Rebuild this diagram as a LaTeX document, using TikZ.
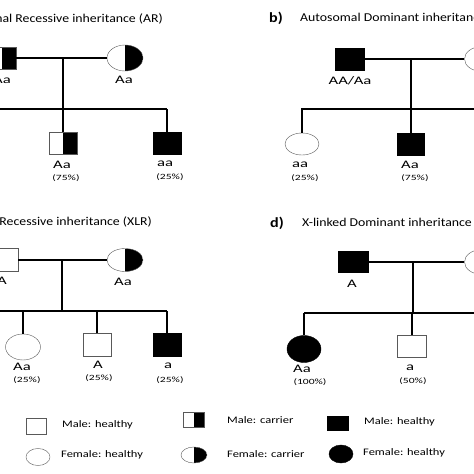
\documentclass[tikz,border=0pt]{standalone}
\usepackage{fontspec}
\setmainfont{Carlito}
\newfontfamily\gtfont[FakeStretch=1.45]{Carlito}
\newfontfamily\keyfont[FakeStretch=1.25]{Carlito}
\newfontfamily\titfont[FakeStretch=1.15]{Carlito}
\usetikzlibrary{shapes.geometric}
\usetikzlibrary{positioning}
\tikzset{
  male/.style={
    rectangle,
    draw=black!65, thin, fill=white,
    minimum width=28pt, minimum height=22pt,
    inner sep=0pt,
  },
  female/.style={
    ellipse,
    draw=black!65, thin, fill=white,
    minimum width=35pt, minimum height=25pt,
    inner sep=0pt,
  },
  affected/.style={fill=black, draw=black},
  carrier/.style={
    path picture={\fill[black] (path picture bounding box.north) rectangle (path picture bounding box.south east);}
  },
  pedline/.style={draw=black, line width=1.6pt},
  gtype/.style={font=\gtfont\fontsize{11.5}{13}\selectfont, inner sep=0pt},
  pct/.style={font=\gtfont\fontsize{8}{9}\selectfont, inner sep=0pt},
  title/.style={font=\titfont\fontsize{12}{14}\selectfont, inner sep=0pt},
  panel/.style={font=\titfont\fontsize{14}{16}\selectfont\bfseries, inner sep=0pt},
  keytext/.style={font=\keyfont\fontsize{10}{12}\selectfont, anchor=west, inner sep=0pt},
}

\begin{document}
\begin{tikzpicture}[x=1pt,y=-1pt]
  \useasboundingbox (0,0) rectangle (474,474);
  \clip (0,0) rectangle (474,474);

  % a) autosomal recessive
  \node[title, anchor=east] (Ta) at (163,18) {{\bfseries\fontsize{14}{16}\selectfont a)}\quad Autosomal Recessive inheritance (AR)};
  \node[male, carrier] (Fa) at (2,58) {};
  \node[female, carrier, minimum width=36pt, minimum height=26pt] (Ma) at (125,58) {};
  \coordinate (Ja) at (63,58);
  \coordinate (SaL) at (-5,109);
  \coordinate (SaR) at (167,109);
  \node[male, carrier] (Ca1) at (63,143) {};
  \node[male, affected] (Ca2) at (167,143) {};
  \draw[pedline] (Fa) -- (Ma);
  \draw[pedline] (Ja) -- (Ja |- SaL);
  \draw[pedline] (SaL) -- (SaR);
  \draw[pedline] (Ca1.north) -- (Ca1.north |- SaL);
  \draw[pedline] (Ca2.north) -- (Ca2.north |- SaL);
  \node[gtype] (GFa) at (2,80) {Aa};
  \node[gtype] (GMa) at (124,80) {Aa};
  \node[gtype] (GCa1) at (62,165) {Aa};
  \node[pct] (PCa1) at (66,178) {(75\%)};
  \node[gtype] (GCa2) at (165,164) {aa};
  \node[pct] (PCa2) at (170,177) {(25\%)};

  % b) autosomal dominant
  \node[panel] (Lb) at (276,18) {b)};
  \node[title, anchor=west] (Tb) at (300,18) {Autosomal Dominant inheritance (AD)};
  \node[male, affected, minimum width=29pt] (Fb) at (350,59) {};
  \node[female] (Mb) at (482,59) {};
  \coordinate (Jb) at (411,59);
  \coordinate (SbL) at (301,109);
  \coordinate (SbR) at (480,109);
  \node[female, minimum width=34pt, minimum height=22pt] (Cb1) at (302,144) {};
  \node[male, affected, minimum width=27pt] (Cb2) at (411,144) {};
  \draw[pedline] (Fb) -- (Mb);
  \draw[pedline] (Jb) -- (Jb |- SbL);
  \draw[pedline] (SbL) -- (SbR);
  \draw[pedline] (Cb1.north) -- (Cb1.north |- SbL);
  \draw[pedline] (Cb2.north) -- (Cb2.north |- SbL);
  \node[gtype] (GFb) at (350,81) {AA/Aa};
  \node[gtype] (GCb1) at (300,165) {aa};
  \node[pct] (PCb1) at (305,178) {(25\%)};
  \node[gtype] (GCb2) at (410,165) {Aa};
  \node[pct] (PCb2) at (415,178) {(75\%)};

  % c) x-linked recessive
  \node[title, anchor=east] (Tc) at (152,221) {{\bfseries\fontsize{14}{16}\selectfont c)}\quad X-linked Recessive inheritance (XLR)};
  \node[male, minimum height=23pt] (Fc) at (4,260) {};
  \node[female, carrier, minimum width=36pt, minimum height=23pt] (Mc) at (125,260) {};
  \coordinate (Jc) at (62,260);
  \coordinate (ScL) at (-5,311);
  \coordinate (ScR) at (167,311);
  \node[female, minimum height=26pt] (Cc1) at (23,347) {};
  \node[male, minimum height=23pt] (Cc2) at (97,345) {};
  \node[male, affected, minimum height=23pt] (Cc3) at (167,345) {};
  \draw[pedline] (Fc) -- (Mc);
  \draw[pedline] (Jc) -- (Jc |- ScL);
  \draw[pedline] (ScL) -- (ScR);
  \draw[pedline] (Cc1.north) -- (Cc1.north |- ScL);
  \draw[pedline] (Cc2.north) -- (Cc2.north |- ScL);
  \draw[pedline] (Cc3.north) -- (Cc3.north |- ScL);
  \node[gtype] (GFc) at (2,281) {A};
  \node[gtype] (GMc) at (123,282) {Aa};
  \node[gtype] (GCc1) at (22,367) {Aa};
  \node[pct] (PCc1) at (27,380) {(25\%)};
  \node[gtype] (GCc2) at (98,365) {A};
  \node[pct] (PCc2) at (99,378) {(25\%)};
  \node[gtype] (GCc3) at (168,366) {a};
  \node[pct] (PCc3) at (170,380) {(25\%)};

  % d) x-linked dominant
  \node[panel] (Ld) at (277,223) {d)};
  \node[title, anchor=west] (Td) at (302,223) {X-linked Dominant inheritance (XLD)};
  \node[male, affected, minimum width=30pt, minimum height=21pt] (Fd) at (353,262) {};
  \node[female] (Md) at (482,262) {};
  \coordinate (Jd) at (413,262);
  \coordinate (SdL) at (304,313);
  \coordinate (SdR) at (480,313);
  \node[female, affected, minimum width=34pt, minimum height=27pt] (Cd1) at (304,349) {};
  \node[male, minimum width=29pt] (Cd2) at (412,346) {};
  \draw[pedline] (Fd) -- (Md);
  \draw[pedline] (Jd) -- (Jd |- SdL);
  \draw[pedline] (SdL) -- (SdR);
  \draw[pedline] (Cd1.north) -- (Cd1.north |- SdL);
  \draw[pedline] (Cd2.north) -- (Cd2.north |- SdL);
  \node[gtype] (GFd) at (352,284) {A};
  \node[gtype] (GCd1) at (302,369) {Aa};
  \node[pct] (PCd1) at (310,382) {(100\%)};
  \node[gtype] (GCd2) at (410,368) {a};
  \node[pct] (PCd2) at (413,381) {(50\%)};

  % key
  \node[male, minimum width=20pt, minimum height=16pt] (K1) at (36,426) {};
  \node[keytext] (KT1) at (62,425) {Male: healthy};
  \node[female, minimum width=24pt, minimum height=17pt] (K2) at (38,457) {};
  \node[keytext] (KT2) at (61,455) {Female: healthy};
  \node[male, carrier, minimum width=21pt, minimum height=15pt] (K3) at (194,420) {};
  \node[keytext] (KT3) at (227,420) {Male: carrier};
  \node[female, carrier, minimum width=26pt, minimum height=16pt] (K4) at (194,455) {};
  \node[keytext] (KT4) at (227,454) {Female: carrier};
  \node[male, affected, minimum width=21pt, minimum height=14pt] (K5) at (338,423) {};
  \node[keytext] (KT5) at (364,422) {Male: healthy};
  \node[female, affected, minimum width=24pt, minimum height=18pt] (K6) at (341,454) {};
  \node[keytext] (KT6) at (363,453) {Female: healthy};
\end{tikzpicture}
\end{document}
